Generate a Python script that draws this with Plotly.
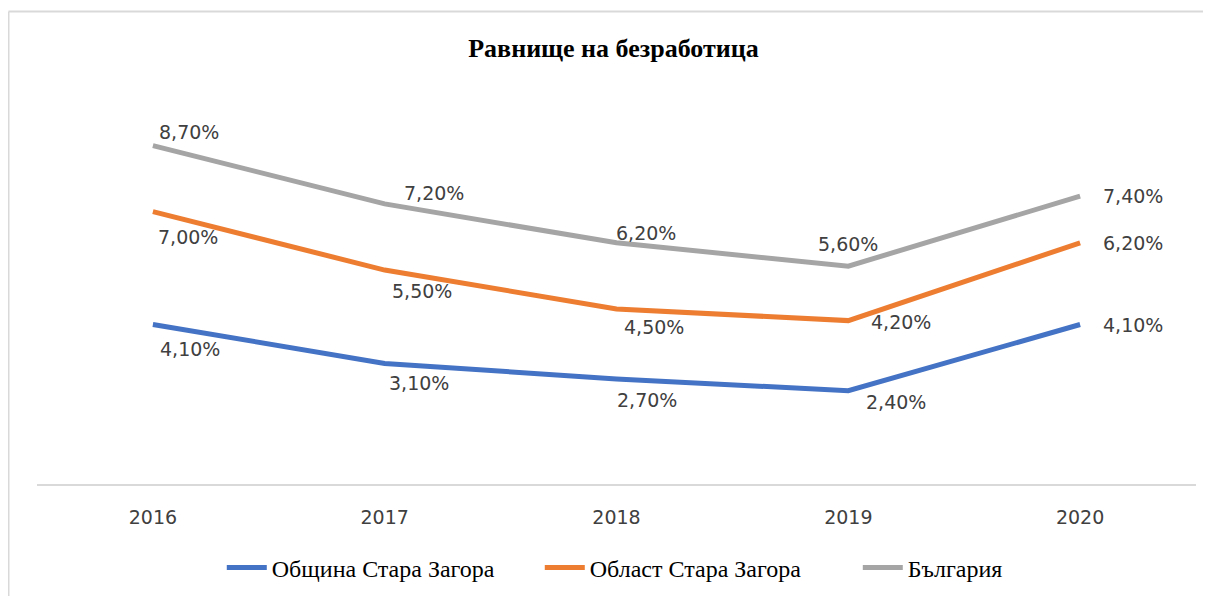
import plotly.graph_objects as go

years = ["2016", "2017", "2018", "2019", "2020"]
obshtina = [4.1, 3.1, 2.7, 2.4, 4.1]
oblast = [7.0, 5.5, 4.5, 4.2, 6.2]
bulgaria = [8.7, 7.2, 6.2, 5.6, 7.4]
series_names = ["Община Стара Загора", "Област Стара Загора", "България"]
colors = ["#4472C4", "#ED7D31", "#A5A5A5"]

def fmt(v):
    return f"{v:.2f}".replace(".", ",") + "%"

# label offsets in pixels (style only)
shift_obshtina = [(37, -24), (34, -20), (30, -21), (48, -11), (53, 0)]
shift_oblast = [(35, -25), (37, -21), (37, -18), (53, -1), (53, 0)]
shift_bulgaria = [(36, 14), (49, 11), (29, 10), (0, 22), (53, 0)]

fig = go.Figure()
annotations = []
for name, vals, col, shifts in [
    (series_names[0], obshtina, colors[0], shift_obshtina),
    (series_names[1], oblast, colors[1], shift_oblast),
    (series_names[2], bulgaria, colors[2], shift_bulgaria),
]:
    fig.add_trace(go.Scatter(
        x=years, y=vals, name=name, mode="lines",
        line=dict(color=col, width=5, shape="linear"),
    ))
    for i, (yv, (dx, dy)) in enumerate(zip(vals, shifts)):
        annotations.append(dict(
            x=i, y=yv, xref="x", yref="y", text=fmt(yv), showarrow=False,
            xanchor="center", yanchor="middle", xshift=dx, yshift=dy,
            font=dict(family="DejaVu Sans", size=19, color="#404040"),
        ))

fig.update_layout(
    width=1211, height=596,
    margin=dict(l=29, r=23, t=87, b=120),
    paper_bgcolor="white", plot_bgcolor="white",
    title=dict(text="<b>Равнище на безработица</b>", x=0.5, xanchor="center",
               y=0.933, yanchor="middle",
               font=dict(family="Liberation Serif", size=26, color="black")),
    xaxis=dict(type="category", range=[-0.5, 4.5], showgrid=False,
               showline=True, linecolor="#D9D9D9", linewidth=2,
               ticks="", tickfont=dict(family="DejaVu Sans", size=19, color="#404040"),
               ticklabelstandoff=15),
    yaxis=dict(range=[0, 10], visible=False, showgrid=False, zeroline=False),
    legend=dict(orientation="h", x=0.571, xanchor="center", y=-0.216, yanchor="middle",
                font=dict(family="Liberation Serif", size=24, color="black"),
                itemwidth=40, traceorder="normal",
                entrywidth=263, entrywidthmode="pixels"),
    showlegend=True,
    annotations=annotations,
    shapes=[
        dict(type="line", xref="paper", yref="paper", x0=-0.0246, x1=-0.0246,
             y0=1.2147, y1=-0.35, line=dict(color="#D9D9D9", width=2)),
        dict(type="line", xref="paper", yref="paper", x0=-0.0246, x1=1.05,
             y0=1.2147, y1=1.2147, line=dict(color="#D9D9D9", width=2)),
    ],
)

fig.write_html("out.html")
